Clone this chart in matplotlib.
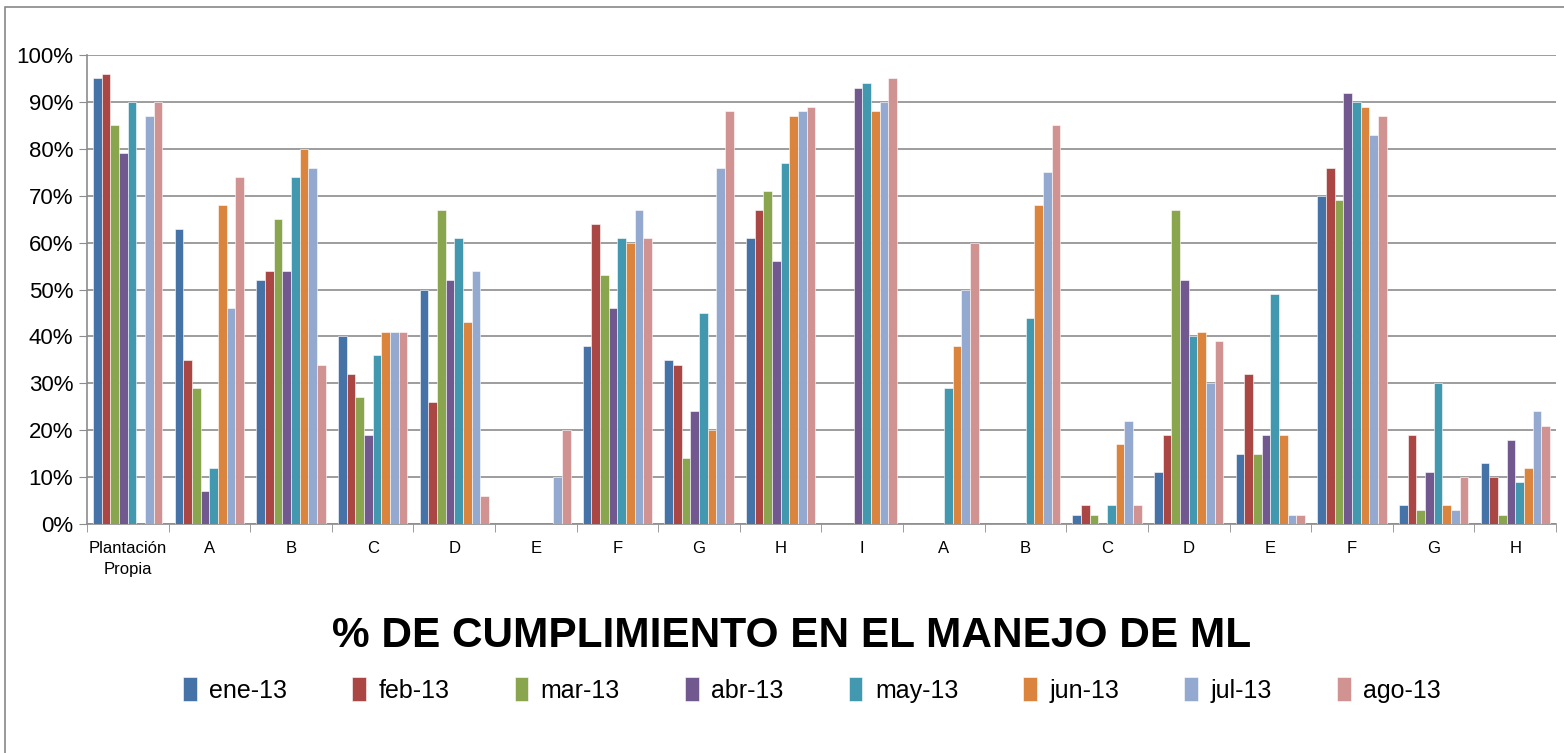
import matplotlib
matplotlib.use("Agg")
import matplotlib.pyplot as plt
import numpy as np

categories = ["Plantación\nPropia", "A", "B", "C", "D", "E", "F", "G", "H", "I",
              "A", "B", "C", "D", "E", "F", "G", "H"]
months = ["ene-13", "feb-13", "mar-13", "abr-13", "may-13", "jun-13", "jul-13", "ago-13"]
colors = ["#4572A7", "#AA4643", "#89A54E", "#71588F", "#4198AF", "#DB843D", "#93A9CF", "#D19392"]

# percent per category, one list per month
ene = [95, 63, 52, 40, 50, 0, 38, 35, 61, 0, 0, 0, 2, 11, 15, 70, 4, 13]
feb = [96, 35, 54, 32, 26, 0, 64, 34, 67, 0, 0, 0, 4, 19, 32, 76, 19, 10]
mar = [85, 29, 65, 27, 67, 0, 53, 14, 71, 0, 0, 0, 2, 67, 15, 69, 3, 2]
abr = [79, 7, 54, 19, 52, 0, 46, 24, 56, 93, 0, 0, 0, 52, 19, 92, 11, 18]
may = [90, 12, 74, 36, 61, 0, 61, 45, 77, 94, 29, 44, 4, 40, 49, 90, 30, 9]
jun = [0, 68, 80, 41, 43, 0, 60, 20, 87, 88, 38, 68, 17, 41, 19, 89, 4, 12]
jul = [87, 46, 76, 41, 54, 10, 67, 76, 88, 90, 50, 75, 22, 30, 2, 83, 3, 24]
ago = [90, 74, 34, 41, 6, 20, 61, 88, 89, 95, 60, 85, 4, 39, 2, 87, 10, 21]
series = [ene, feb, mar, abr, may, jun, jul, ago]

plt.rcParams["font.family"] = ["Liberation Sans", "DejaVu Sans"]

fig = plt.figure(figsize=(15.64, 7.53), dpi=100)
ax = fig.add_axes([87 / 1564, 1 - 524 / 753, (1556 - 87) / 1564, (524 - 55) / 753])

# outer chart frame (only left/top edges show in the reference)
fig.patches.append(plt.Rectangle((5 / 1564, -0.1), 1.2, 0.1 + 746 / 753, transform=fig.transFigure,
                                 fill=False, edgecolor="#888888", linewidth=1.2))

x = np.arange(len(categories))
n = len(series)
bar_w = 0.85 / n
for i, (vals, name, c) in enumerate(zip(series, months, colors)):
    ax.bar(x - 0.425 + bar_w * (i + 0.5), np.array(vals) / 100, width=bar_w, color=c,
           edgecolor="white", linewidth=0.4, label=name, zorder=3)

ax.set_xlim(-0.5, len(categories) - 0.5)
ax.set_ylim(0, 1.0)
ax.set_yticks(np.arange(0, 1.01, 0.1))
ax.set_yticklabels([f"{int(round(v * 100))}%" for v in np.arange(0, 1.01, 0.1)], fontsize=16)
ax.yaxis.grid(True, color="#8c8c8c", linewidth=1.2, zorder=0)
ax.set_xticks(x)
ax.set_xticklabels(categories, fontsize=12, linespacing=1.5)
ax.set_xticks(np.arange(-0.5, len(categories), 1), minor=True)
ax.tick_params(axis="x", which="major", length=0, pad=12)
ax.tick_params(axis="x", which="minor", length=6, color="#8c8c8c")
ax.tick_params(axis="y", length=6, color="#8c8c8c", pad=4)
for side in ["top", "right"]:
    ax.spines[side].set_visible(False)
for side in ["left", "bottom"]:
    ax.spines[side].set_color("#8c8c8c")
    ax.spines[side].set_linewidth(1.2)

fig.text(792 / 1564, 1 - 636 / 753, "% DE CUMPLIMIENTO EN EL MANEJO DE ML", ha="center", va="center",
         fontsize=30.5, fontweight="bold")

fig.legend(loc="center", bbox_to_anchor=(812 / 1564, 1 - 690 / 753), ncol=8, frameon=False,
           fontsize=18, handlelength=0.55, handleheight=1.1, handletextpad=0.5, columnspacing=2.6)

fig.savefig("out.png", dpi=100)
